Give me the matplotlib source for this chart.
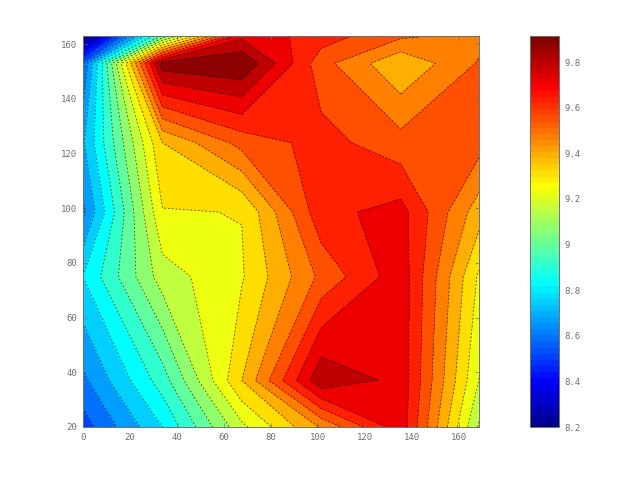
import matplotlib
matplotlib.use('Agg')
import matplotlib.pyplot as plt
import numpy as np
from matplotlib.cm import ScalarMappable
from matplotlib.colors import LinearSegmentedColormap, Normalize

# grid nodes
x_nodes = [0, 33.8, 67.6, 101.4, 135.2, 169]
y_nodes = [20, 37, 75, 98.6, 124, 153, 163]

# one row per y node, bottom to top
z_row_20 = [8.56, 8.84, 9.22, 9.49, 9.77, 9.14]
z_row_37 = [8.66, 8.96, 9.40, 9.865, 9.775, 9.23]
z_row_75 = [8.84, 9.20, 9.312, 9.58, 9.77, 9.30]
z_row_99 = [8.66, 9.315, 9.322, 9.695, 9.75, 9.43]
z_row_124 = [8.75, 9.40, 9.59, 9.67, 9.59, 9.59]
z_row_153 = [8.60, 9.93, 9.955, 9.59, 9.41, 9.57]
z_row_163 = [8.20, 9.02, 9.78, 9.68, 9.575, 9.535]

z_min = 8.2
z_max = 9.914
level_step = 0.08

x_ticks = [0, 20, 40, 60, 80, 100, 120, 140, 160]
y_ticks = [20, 40, 60, 80, 100, 120, 140, 160]
bar_ticks = [8.2, 8.4, 8.6, 8.8, 9, 9.2, 9.4, 9.6, 9.8]

gray = '#707070'
plt.rcParams['font.family'] = 'DejaVu Sans Mono'
plt.rcParams['font.size'] = 6.5

z = np.array([z_row_20, z_row_37, z_row_75, z_row_99, z_row_124, z_row_153, z_row_163])
levels = list(np.arange(z_min, z_max, level_step)) + [z.max() + 0.01]

# octave's jet is a bit different from matplotlib's
octave_jet = LinearSegmentedColormap.from_list('octave_jet', [
    (0.0, (0, 0, 0.5625)),
    (7 / 63, (0, 0, 1)),
    (23 / 63, (0, 1, 1)),
    (39 / 63, (1, 1, 0)),
    (55 / 63, (1, 0, 0)),
    (1.0, (0.5, 0, 0)),
], N=64)
norm = Normalize(z_min, z_max)
# each band takes the colour of its lower level
band_colors = [octave_jet(norm(l)) for l in levels[:-1]]

fig = plt.figure(figsize=(6.4, 4.8), dpi=100)
ax = fig.add_axes([83 / 640, 1 - 427 / 480, 396 / 640, 391 / 480])
cax = fig.add_axes([530 / 640, 1 - 427 / 480, 29 / 640, 391 / 480])

ax.contourf(x_nodes, y_nodes, z, levels=levels, colors=band_colors)
ax.contour(x_nodes, y_nodes, z, levels=levels[1:-1], colors='k',
           linewidths=0.6, linestyles=[(0, (2, 2.5))], alpha=0.7)
ax.set_xlim(0, 168.5)
ax.set_ylim(20, 163)
ax.set_xticks(x_ticks)
ax.set_yticks(y_ticks)

cbar = fig.colorbar(ScalarMappable(norm=norm, cmap=octave_jet), cax=cax)
cbar.set_ticks(bar_ticks)
cbar.set_ticklabels(['%g' % t for t in bar_ticks])

for a in (ax, cax):
    a.tick_params(direction='in', length=3, width=0.5, color=gray, labelcolor=gray, pad=4)
    for spine in a.spines.values():
        spine.set_color(gray)
        spine.set_linewidth(0.7)
ax.tick_params(top=True, right=True)
cax.tick_params(length=0)

fig.savefig('out.png', dpi=100)
